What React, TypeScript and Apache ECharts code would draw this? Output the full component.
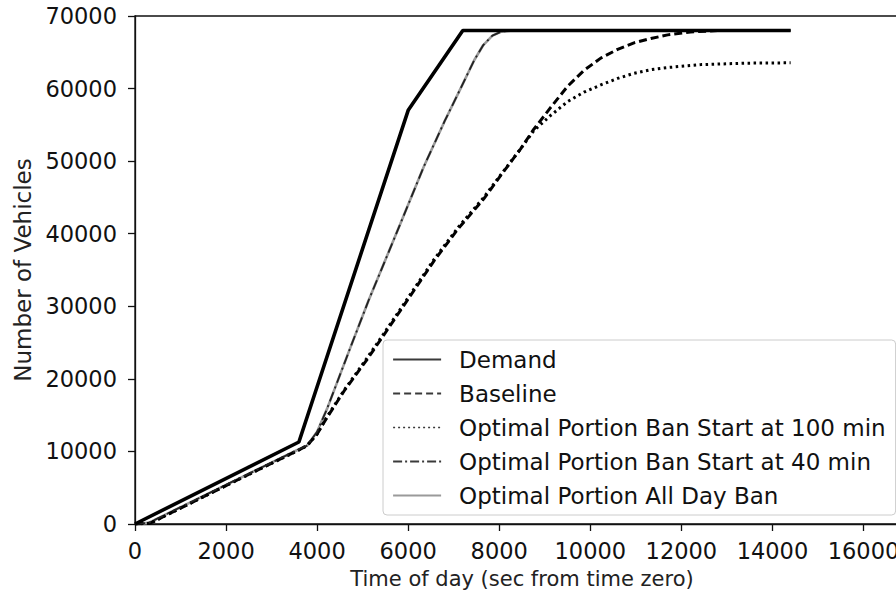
import { useEffect, useRef } from "react";
import * as echarts from "echarts";

// Cumulative vehicle counts (time in seconds from time zero)
const demandTime = [0, 3600, 6000, 7200, 14400];
const demandCount = [0, 11300, 57000, 68000, 68000];

const baselineTime = [0, 330, 2000, 3600, 3780, 4000, 4220, 4600, 5100, 5460, 6000, 6560, 7100, 7660, 8030, 8470, 8760, 9130, 9500, 9860, 10230, 10600, 10960, 11330, 11700, 12200, 12800, 14400];
const baselineCount = [0, 100, 5300, 10200, 10800, 12400, 14700, 18400, 22700, 26000, 31000, 36200, 40700, 44800, 48000, 51700, 54400, 57400, 60300, 62500, 64200, 65400, 66300, 66900, 67400, 67800, 68000, 68000];

const ban100Time = [0, 330, 2000, 3600, 3780, 4000, 4220, 4600, 5100, 5460, 6000, 6560, 7100, 7660, 8030, 8470, 8760, 9130, 9500, 9860, 10230, 10600, 10960, 11330, 11700, 12430, 13400, 14400];
const ban100Count = [0, 100, 5300, 10200, 10800, 12400, 14800, 18500, 22900, 26200, 31200, 36400, 40900, 45000, 48100, 51700, 54200, 56300, 58200, 59500, 60500, 61400, 62100, 62600, 62900, 63300, 63500, 63550];

const ban40Time = [0, 300, 2000, 3600, 3780, 4000, 4220, 4730, 5130, 5830, 6340, 6800, 7150, 7450, 7650, 7850, 8050, 8300, 14400];
const ban40Count = [0, 150, 5400, 10300, 10800, 12700, 15900, 24300, 30800, 41400, 49200, 55500, 60000, 63900, 66000, 67300, 67850, 68000, 68000];

const allDayTime = [0, 300, 2000, 3600, 3780, 4000, 4220, 4730, 5130, 5830, 6340, 6800, 7150, 7450, 7650, 7850, 8050, 8300, 14400];
const allDayCount = [0, 150, 5400, 10300, 10800, 12700, 15900, 24300, 30800, 41400, 49200, 55500, 60000, 63900, 66000, 67300, 67850, 68000, 68000];

const seriesNames = [
  "Demand",
  "Baseline",
  "Optimal Portion Ban Start at 100 min",
  "Optimal Portion Ban Start at 40 min",
  "Optimal Portion All Day Ban",
];

const xTitle = "Time of day (sec from time zero)";
const yTitle = "Number of Vehicles";

function zip(t: number[], v: number[]) {
  return t.map((x, i) => [x, v[i]]);
}

export default function App() {
  const ref = useRef<HTMLDivElement>(null);

  useEffect(() => {
    const chart = echarts.init(ref.current!, null, { renderer: "svg" });
    const font = "DejaVu Sans";
    const axisColor = "#111";
    const plain = (v: number) => String(v);

    const lineBase = {
      type: "line" as const,
      symbol: "none",
      showSymbol: false,
      silent: true,
      smooth: false,
    };

    const legendLine = (name: string, color: string, width: number, type: any) => ({
      name,
      icon: "inherit",
      itemStyle: { opacity: 0 },
      lineStyle: { color, width, type },
    });

    chart.setOption({
      animation: false,
      backgroundColor: "#fff",
      textStyle: { fontFamily: font },
      grid: {
        left: 135,
        top: 16,
        width: 774,
        height: 511,
        show: true,
        borderColor: axisColor,
        borderWidth: 1.3,
        backgroundColor: "transparent",
      },
      xAxis: {
        type: "value",
        min: 0,
        max: 17000,
        interval: 2000,
        name: xTitle,
        nameLocation: "middle",
        nameGap: 44,
        nameTextStyle: { fontSize: 21, color: "#222", fontFamily: font },
        axisLine: { show: true, lineStyle: { color: axisColor, width: 1.3 } },
        axisTick: { show: true, length: 7, lineStyle: { color: axisColor, width: 1.3 } },
        axisLabel: { fontSize: 22.5, color: axisColor, margin: 15, showMaxLabel: false, fontFamily: font, formatter: plain },
        splitLine: { show: false },
      },
      yAxis: {
        type: "value",
        min: 0,
        max: 70000,
        interval: 10000,
        name: yTitle,
        nameLocation: "middle",
        nameGap: 98,
        nameTextStyle: { fontSize: 23, color: "#222", fontFamily: font },
        axisLine: { show: true, lineStyle: { color: axisColor, width: 1.3 } },
        axisTick: { show: true, length: 7, lineStyle: { color: axisColor, width: 1.3 } },
        axisLabel: { fontSize: 22.5, color: axisColor, margin: 18, fontFamily: font, formatter: plain },
        splitLine: { show: false },
      },
      legend: {
        orient: "vertical",
        left: 383,
        top: 340,
        padding: [6, 10, 6, 9],
        itemGap: 7,
        itemWidth: 48,
        itemHeight: 14,
        selectedMode: false,
        backgroundColor: "rgba(255,255,255,0.85)",
        borderColor: "#cccccc",
        borderWidth: 1,
        borderRadius: 4,
        textStyle: { fontSize: 23, color: "#111", lineHeight: 27, padding: [0, 0, 0, 13], fontFamily: font },
        data: [
          legendLine(seriesNames[0], "#3a3a3a", 2.2, "solid"),
          legendLine(seriesNames[1], "#3a3a3a", 2.2, [7, 4]),
          legendLine(seriesNames[2], "#3a3a3a", 1.6, [2, 3]),
          legendLine(seriesNames[3], "#3a3a3a", 2, [9, 3, 2, 3]),
          legendLine(seriesNames[4], "#9a9a9a", 2.2, "solid"),
        ],
      },
      series: [
        {
          ...lineBase,
          name: seriesNames[0],
          z: 5,
          data: zip(demandTime, demandCount),
          lineStyle: { color: "#000", width: 3.6, type: "solid" },
        },
        {
          ...lineBase,
          name: seriesNames[1],
          z: 4,
          data: zip(baselineTime, baselineCount),
          lineStyle: { color: "#000", width: 3, type: [8, 4] },
        },
        {
          ...lineBase,
          name: seriesNames[2],
          z: 4,
          data: zip(ban100Time, ban100Count),
          lineStyle: { color: "#000", width: 3, type: [2.5, 3.5] },
        },
        {
          ...lineBase,
          name: seriesNames[3],
          z: 4,
          data: zip(ban40Time, ban40Count),
          lineStyle: { color: "#222", width: 1.8, type: [10, 4, 2, 4] },
        },
        {
          ...lineBase,
          name: seriesNames[4],
          z: 3,
          data: zip(allDayTime, allDayCount),
          lineStyle: { color: "#9a9a9a", width: 2.6, type: "solid" },
        },
      ],
    });

    return () => chart.dispose();
  }, []);

  return (
    <div
      style={{
        position: "fixed",
        left: 0,
        top: 0,
        width: 896,
        height: 594,
        overflow: "hidden",
        background: "#fff",
      }}
    >
      <div ref={ref} style={{ width: 930, height: 594 }} />
    </div>
  );
}
